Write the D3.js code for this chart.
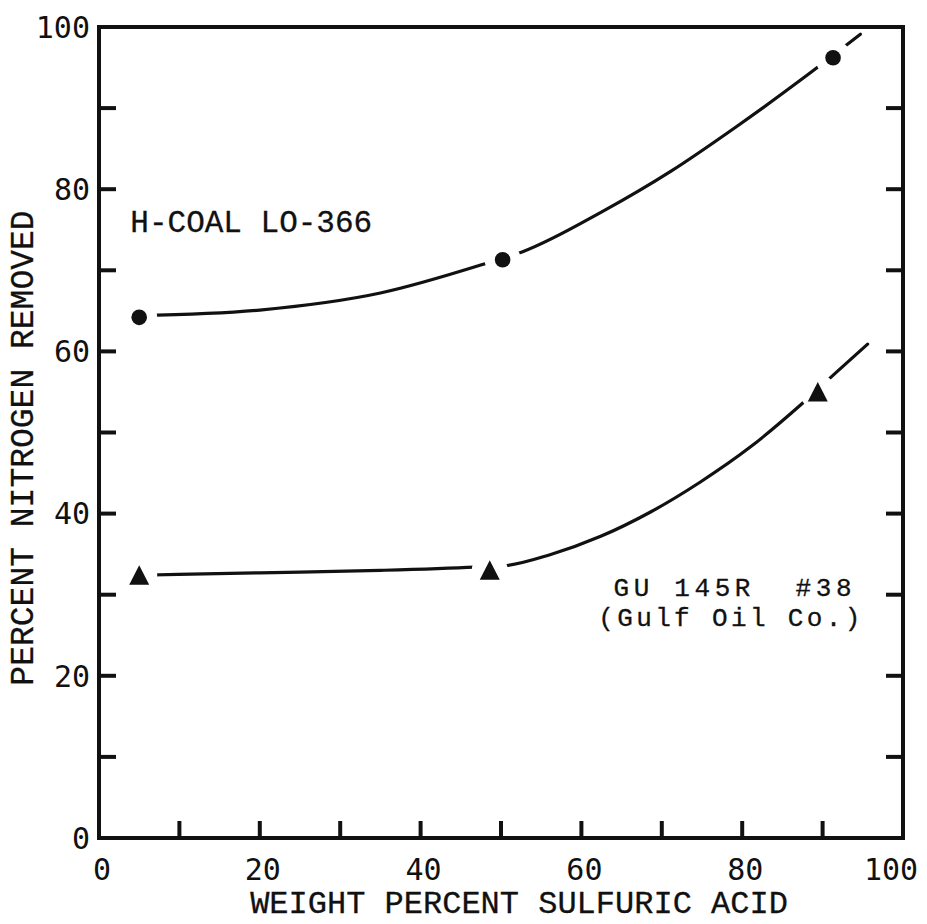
<!DOCTYPE html>
<html>
<head>
<meta charset="utf-8">
<script src="https://cdn.jsdelivr.net/npm/d3@7"></script>
<style>
  html, body { margin: 0; padding: 0; background: #fff; }
  svg { display: block; }
  .serif-text { font-family: "Liberation Mono", "DejaVu Sans Mono", monospace; fill: #111; stroke: #111; stroke-width: 0.3; white-space: pre; }
  .tick-text { font-family: "DejaVu Sans Mono", monospace; fill: #111; }
</style>
</head>
<body>
<div id="chart"></div>
<script>
(function() {
    'use strict';

    // measured points
    var hcoalX = [5, 50.2, 91.3];
    var hcoalY = [64.2, 71.3, 96.2];
    var gulfX = [5, 48.6, 89.4];
    var gulfY = [32.4, 33.0, 55.0];

    // hand-drawn fit curves
    var hcoalCurveX = [5, 20, 35, 48.3, 52.7, 62.7, 71.1, 79.4, 87.6, 94.7];
    var hcoalCurveY = [64.4, 65.1, 67.2, 70.9, 72.3, 77.3, 82.2, 87.8, 93.7, 99.1];
    var gulfCurveX = [5, 20, 35, 46.8, 50.7, 56, 62.4, 68.6, 74.8, 81.0, 87.5, 91.8, 95.6];
    var gulfCurveY = [32.4, 32.7, 33.0, 33.4, 33.6, 34.9, 37.2, 40.2, 43.9, 48.2, 53.6, 57.5, 60.9];

    var xTicks = [0, 20, 40, 60, 80, 100];
    var yTicks = [0, 20, 40, 60, 80, 100];
    var minorTicks = [10, 20, 30, 40, 50, 60, 70, 80, 90];

    var width = 927, height = 924;
    var margin = { top: 27, right: 24, bottom: 86, left: 99 };

    var x = d3.scaleLinear().domain([0, 100]).range([margin.left, width - margin.right]);
    var y = d3.scaleLinear().domain([0, 100]).range([height - margin.bottom, margin.top]);

    var svg = d3.select('#chart').append('svg')
        .attr('width', width)
        .attr('height', height);

    var tickLen = 17;

    // tick marks (inward) on bottom, left, right
    svg.append('g').selectAll('line')
        .data(minorTicks)
        .join('line')
        .attr('x1', function(d) { return x(d); })
        .attr('x2', function(d) { return x(d); })
        .attr('y1', y(0))
        .attr('y2', y(0) - tickLen)
        .attr('stroke', '#111')
        .attr('stroke-width', 4);

    svg.append('g').selectAll('line')
        .data(minorTicks)
        .join('line')
        .attr('x1', x(0))
        .attr('x2', x(0) + tickLen)
        .attr('y1', function(d) { return y(d); })
        .attr('y2', function(d) { return y(d); })
        .attr('stroke', '#111')
        .attr('stroke-width', 4);

    svg.append('g').selectAll('line')
        .data(minorTicks)
        .join('line')
        .attr('x1', x(100))
        .attr('x2', x(100) - tickLen)
        .attr('y1', function(d) { return y(d); })
        .attr('y2', function(d) { return y(d); })
        .attr('stroke', '#111')
        .attr('stroke-width', 4);

    // frame
    svg.append('rect')
        .attr('x', x(0))
        .attr('y', y(100))
        .attr('width', x(100) - x(0))
        .attr('height', y(0) - y(100))
        .attr('fill', 'none')
        .attr('stroke', '#111')
        .attr('stroke-width', 4);

    // tick labels
    svg.append('g').selectAll('text')
        .data(xTicks)
        .join('text')
        .attr('class', 'tick-text')
        .attr('x', function(d) { return x(d) + (d === 100 ? -12 : 3); })
        .attr('y', y(0) + 42)
        .attr('text-anchor', 'middle')
        .style('font-size', '30px')
        .text(function(d) { return d; });

    svg.append('g').selectAll('text')
        .data(yTicks)
        .join('text')
        .attr('class', 'tick-text')
        .attr('x', x(0) - 9)
        .attr('y', function(d) { return y(d); })
        .attr('dy', '0.36em')
        .attr('text-anchor', 'end')
        .style('font-size', '30px')
        .text(function(d) { return d; });

    // axis titles
    svg.append('text')
        .attr('class', 'serif-text')
        .attr('x', (248 + 790) / 2)
        .attr('y', 913)
        .attr('text-anchor', 'middle')
        .style('font-size', '32px')
        .text('WEIGHT PERCENT SULFURIC ACID');

    svg.append('text')
        .attr('class', 'serif-text')
        .attr('transform', 'translate(33,' + 448 + ') rotate(-90)')
        .attr('text-anchor', 'middle')
        .style('font-size', '33px')
        .text('PERCENT NITROGEN REMOVED');

    // curves
    var line = d3.line()
        .x(function(d) { return x(d[0]); })
        .y(function(d) { return y(d[1]); })
        .curve(d3.curveMonotoneX);

    var curves = [d3.zip(hcoalCurveX, hcoalCurveY), d3.zip(gulfCurveX, gulfCurveY)];
    svg.append('g').selectAll('path')
        .data(curves)
        .join('path')
        .attr('d', line)
        .attr('fill', 'none')
        .attr('stroke', '#111')
        .attr('stroke-width', 3.2)
        .attr('stroke-linecap', 'round');

    // white gaps around the data points
    var allPts = d3.zip(hcoalX, hcoalY).concat(d3.zip(gulfX, gulfY));
    svg.append('g').selectAll('circle')
        .data(allPts)
        .join('circle')
        .attr('cx', function(d) { return x(d[0]); })
        .attr('cy', function(d) { return y(d[1]); })
        .attr('r', 18)
        .attr('fill', '#fff');

    // markers
    svg.append('g').selectAll('circle')
        .data(d3.zip(hcoalX, hcoalY))
        .join('circle')
        .attr('cx', function(d) { return x(d[0]); })
        .attr('cy', function(d) { return y(d[1]); })
        .attr('r', 7.8)
        .attr('fill', '#111');

    svg.append('g').selectAll('path')
        .data(d3.zip(gulfX, gulfY))
        .join('path')
        .attr('transform', function(d) { return 'translate(' + x(d[0]) + ',' + y(d[1]) + ')'; })
        .attr('d', 'M0,-10L10,9.5L-10,9.5Z')
        .attr('fill', '#111');

    // annotations
    svg.append('text')
        .attr('class', 'serif-text')
        .attr('x', x(3.9))
        .attr('y', y(74.7))
        .style('font-size', '31px')
        .text('H-COAL LO-366');

    svg.append('text')
        .attr('class', 'serif-text')
        .attr('x', x(64.0))
        .attr('y', y(29.85))
        .attr('textLength', 238)
        .attr('lengthAdjust', 'spacing')
        .style('font-size', '26px')
        .text('GU 145R  #38');

    svg.append('text')
        .attr('class', 'serif-text')
        .attr('x', x(62.1))
        .attr('y', y(26.15))
        .attr('textLength', 262)
        .attr('lengthAdjust', 'spacing')
        .style('font-size', '26px')
        .text('(Gulf Oil Co.)');
})();
</script>
</body>
</html>
